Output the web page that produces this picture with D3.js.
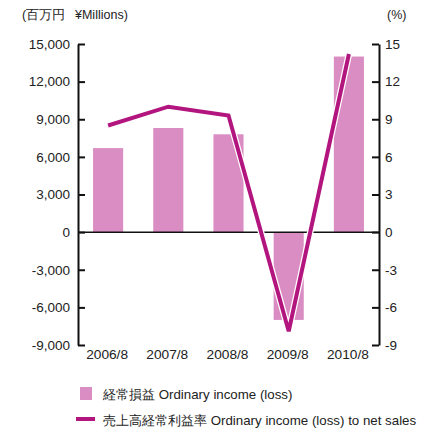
<!DOCTYPE html>
<html>
<head>
<meta charset="utf-8">
<script src="https://cdn.jsdelivr.net/npm/d3@7"></script>
<style>
body { margin: 0; background: #fff; }
svg text { font-family: "Liberation Sans", Arial, sans-serif; fill: #222; }
</style>
</head>
<body>
<svg id="chart" width="431" height="432"></svg>
<script>
var years = ['2006/8', '2007/8', '2008/8', '2009/8', '2010/8'];
var ordinaryIncome = [6700, 8300, 7800, -7000, 14000];
var incomeRatio = [8.5, 10.0, 9.3, -7.9, 14.2];
var leftTicks = [15000, 12000, 9000, 6000, 3000, 0, -3000, -6000, -9000];
var rightTicks = [15, 12, 9, 6, 3, 0, -3, -6, -9];

var BAR_COLOR = '#da8dc3',
    LINE_COLOR = '#b3157f';

var margin = {top: 44, right: 52, bottom: 87, left: 78},
    width = 431 - margin.left - margin.right,
    height = 432 - margin.top - margin.bottom;

var svg = d3.select('svg#chart');
var g = svg.append('g').attr('transform', 'translate(' + margin.left + ',' + margin.top + ')');

var x = d3.scaleBand().domain(years).range([0, width]).paddingInner(0.5).paddingOuter(0.25);
var yLeft = d3.scaleLinear().domain([-9000, 15000]).range([height, 0]);
var yRight = d3.scaleLinear().domain([-9, 15]).range([height, 0]);

// plain hyphen for negatives, like the original
var fmt = function(d) { return d3.format(',')(d).replace('\u2212', '-'); };

// bars
g.selectAll('.bar').data(ordinaryIncome).enter().append('rect')
    .attr('class', 'bar')
    .attr('x', function(d, i) { return x(years[i]); })
    .attr('width', x.bandwidth())
    .attr('y', function(d) { return yLeft(Math.max(0, d)); })
    .attr('height', function(d) { return Math.abs(yLeft(d) - yLeft(0)); })
    .style('fill', BAR_COLOR);

// zero line
g.append('line')
    .attr('x1', 0).attr('x2', width)
    .attr('y1', yLeft(0)).attr('y2', yLeft(0))
    .style('stroke', '#111').style('stroke-width', 1.5);

// axes
var leftAxis = d3.axisLeft(yLeft).tickValues(leftTicks).tickSizeInner(-7).tickSizeOuter(0)
    .tickFormat(fmt);
var rightAxis = d3.axisRight(yRight).tickValues(rightTicks).tickSizeInner(-7).tickSizeOuter(0)
    .tickFormat(fmt);

var la = g.append('g').attr('class', 'axis').call(leftAxis);
var ra = g.append('g').attr('class', 'axis').attr('transform', 'translate(' + width + ',0)').call(rightAxis);
[la, ra].forEach(function(a) {
    a.select('.domain').style('stroke', '#111').style('stroke-width', 2);
    a.selectAll('.tick line').style('stroke', '#111').style('stroke-width', 2);
    a.selectAll('.tick text').style('font-size', '13.5px').style('fill', '#222')
        .style('font-family', '"Liberation Sans", Arial, sans-serif');
});
la.selectAll('.tick text').attr('x', -8);
ra.selectAll('.tick text').attr('x', 6);

// x labels
g.selectAll('.xlabel').data(years).enter().append('text')
    .attr('class', 'xlabel')
    .attr('x', function(d) { return x(d) + x.bandwidth() / 2 - 1; })
    .attr('y', height + 14)
    .attr('text-anchor', 'middle')
    .style('font-size', '13.7px')
    .text(function(d) { return d; });

// ratio line with white halo
var line = d3.line()
    .x(function(d, i) { return x(years[i]) + x.bandwidth() / 2; })
    .y(function(d) { return yRight(d); });
g.append('path').datum(incomeRatio)
    .attr('d', line)
    .style('fill', 'none').style('stroke', '#fff').style('stroke-width', 6.5)
    .style('stroke-linejoin', 'miter');
g.append('path').datum(incomeRatio)
    .attr('d', line)
    .style('fill', 'none').style('stroke', LINE_COLOR).style('stroke-width', 4)
    .style('stroke-linejoin', 'miter');

// unit labels
var unit = svg.append('text').attr('y', 19).style('font-size', '12.5px');
unit.append('tspan').attr('x', 22).text('(百万円');
unit.append('tspan').attr('x', 75).text('¥Millions)');
svg.append('text').attr('x', 387).attr('y', 19).style('font-size', '12.5px').text('(%)');

// legend
svg.append('rect').attr('x', 80).attr('y', 387).attr('width', 12).attr('height', 13).style('fill', BAR_COLOR);
svg.append('text').attr('x', 103).attr('y', 399).style('font-size', '13.3px').text('経常損益 Ordinary income (loss)');
svg.append('line').attr('x1', 76).attr('x2', 95).attr('y1', 419).attr('y2', 419)
    .style('stroke', LINE_COLOR).style('stroke-width', 4);
svg.append('text').attr('x', 103).attr('y', 425).style('font-size', '13.3px').text('売上高経常利益率 Ordinary income (loss) to net sales');
</script>
</body>
</html>
